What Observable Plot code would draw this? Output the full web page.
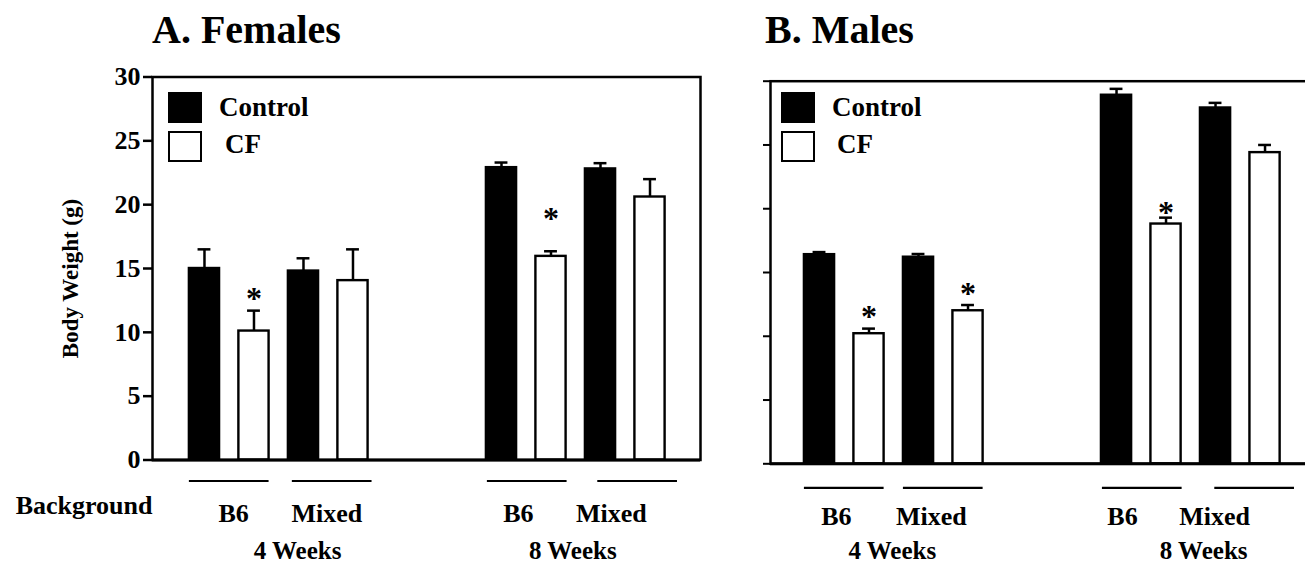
<!DOCTYPE html>
<html>
<head>
<meta charset="utf-8">
<script src="https://cdn.jsdelivr.net/npm/d3@7"></script>
<script src="https://cdn.jsdelivr.net/npm/@observablehq/plot@0.6"></script>
<style>
  html, body { margin: 0; padding: 0; background: #fff; overflow: hidden; width: 1305px; height: 563px; }
  #wrap { position: relative; width: 1305px; height: 563px; overflow: hidden;
          font-family: "Liberation Serif", "Times New Roman", serif; font-weight: bold; color: #000; }
  .title { position: absolute; top: 10px; font-size: 40px; line-height: 40px; white-space: nowrap; }
  .panel { position: absolute; top: 0; height: 563px; }
  .panel svg { max-width: none !important; }
  .sw { position: absolute; width: 34px; height: 31px; box-sizing: border-box; }
  .sw.ctrl { background: #000; }
  .sw.cf { background: #fff; border: 2.5px solid #000; }
  .lt { position: absolute; font-size: 27px; line-height: 27px; white-space: nowrap; }
</style>
</head>
<body>
<div id="wrap">
  <div id="pA" class="panel" style="left:0px;width:720px"></div>
  <div id="pB" class="panel" style="left:700px;width:638px"></div>
  <div class="title" style="left:152px">A. Females</div>
  <div class="title" style="left:765px">B. Males</div>
  <div class="sw ctrl" style="left:168px;top:92px"></div>
  <div class="sw cf" style="left:168px;top:131px"></div>
  <div class="lt" style="left:219px;top:94px">Control</div>
  <div class="lt" style="left:225px;top:131px">CF</div>
  <div class="sw ctrl" style="left:781px;top:92px"></div>
  <div class="sw cf" style="left:781px;top:131px"></div>
  <div class="lt" style="left:832px;top:94px">Control</div>
  <div class="lt" style="left:837px;top:131px">CF</div>
</div>
<script>
// ---- data (order: age -> background -> genotype) ----
const ages = ["4 Weeks", "8 Weeks"];
const backgrounds = ["B6", "Mixed"];
const genotypes = ["Control", "CF"];
const yTicks = [0, 5, 10, 15, 20, 25, 30];

const femaleMean = [15.0, 10.1, 14.8, 14.05, 22.9, 15.95, 22.8, 20.6];
const femaleSEM  = [1.5, 1.6, 1.0, 2.45, 0.4, 0.4, 0.45, 1.4];
const femaleStar = [null, 13.0, null, null, null, 19.3, null, null];

const maleMean = [16.4, 10.2, 16.2, 12.0, 28.9, 18.8, 27.9, 24.4];
const maleSEM  = [0.2, 0.4, 0.25, 0.45, 0.5, 0.5, 0.4, 0.6];
const maleStar = [null, 11.9, null, 13.75, null, 20.1, null, null];

// ---- build tables ----
function buildRows(mean, sem, star) {
  const rows = [];
  ages.forEach((age, a) => backgrounds.forEach((bg, b) => genotypes.forEach((g, k) => {
    const i = a * 4 + b * 2 + k;
    rows.push({age, bg, genotype: g, slot: a * 6 + b * 2 + k, mean: mean[i], sem: sem[i], star: star[i]});
  })));
  return rows;
}
function buildPairs() {
  const pairs = [];
  ages.forEach((age, a) => backgrounds.forEach((bg, b) => {
    const s = a * 6 + b * 2;
    pairs.push({age, bg, first: s, last: s + 1, center: s + 0.5});
  }));
  return pairs;
}
function buildAges() {
  return ages.map((age, a) => ({age, center: a * 6 + 1.5}));
}

const HALF = 0.305, CAP = 0.13;
const FONT = "'Liberation Serif', 'Times New Roman', serif";

function panel(cfg) {
  const rows = buildRows(cfg.mean, cfg.sem, cfg.star);
  const pairs = buildPairs();
  const ageRows = buildAges();
  const marks = [
    Plot.frame({strokeWidth: 2.5}),
    Plot.rect(rows, {x1: d => d.slot - HALF, x2: d => d.slot + HALF, y1: 0, y2: "mean",
                     fill: "genotype", stroke: "black", strokeWidth: 2.4}),
    Plot.ruleX(rows, {x: "slot", y1: "mean", y2: d => d.mean + d.sem, strokeWidth: 2.5}),
    Plot.ruleY(rows, {x1: d => d.slot - CAP, x2: d => d.slot + CAP, y: d => d.mean + d.sem, strokeWidth: 2.5}),
    Plot.text(rows.filter(d => d.star != null), {x: "slot", y: "star", text: () => "*", fontSize: 32, dy: 5}),
    Plot.ruleY([0], {strokeWidth: 3}),
    Plot.ruleY(pairs, {x1: (d, i) => d.first - HALF + cfg.lineShift[i], x2: (d, i) => d.last + HALF + cfg.lineShift[i],
                       y: 0, dy: cfg.lineDy, strokeWidth: 2.2}),
    Plot.text(pairs, {x: (d, i) => d.center + cfg.labelShift[i], y: 0, dy: cfg.labelDy, text: "bg", fontSize: 26}),
    Plot.text(ageRows, {x: (d, i) => d.center + cfg.ageShift[i], y: 0, dy: cfg.ageDy, text: "age", fontSize: 25})
  ];
  if (cfg.labels) {
    marks.push(
      Plot.axisY({ticks: yTicks, tickSize: 9, tickPadding: 3, fontSize: 26, strokeWidth: 2.5, label: null}),
      Plot.text(["Background"], {frameAnchor: "bottom-left", textAnchor: "end", text: d => d, dy: cfg.labelDy, fontSize: 26}),
      Plot.text(["Body Weight (g)"], {frameAnchor: "left", textAnchor: "middle", rotate: -90, text: d => d,
                                      dx: -82, dy: 10, fontSize: 23})
    );
  } else {
    marks.push(Plot.axisY({ticks: yTicks, tickSize: 7, tickFormat: () => "", strokeWidth: 2, label: null}));
  }
  return Plot.plot({
    width: cfg.width,
    height: 563,
    marginLeft: cfg.ml,
    marginRight: 20,
    marginTop: cfg.top,
    marginBottom: 563 - cfg.base,
    x: {type: "linear", domain: cfg.xDomain, axis: null},
    y: {domain: [0, 30], axis: null},
    color: {domain: genotypes, range: ["black", "white"]},
    style: {fontFamily: FONT, fontWeight: "bold", background: "transparent", color: "black",
            overflow: "visible", maxWidth: "none"},
    marks
  });
}

document.getElementById("pA").append(panel({
  mean: femaleMean, sem: femaleSEM, star: femaleStar, labels: true,
  width: 720, ml: 152, top: 76.5, base: 459.5, xDomain: [-1.05, 10.02],
  lineDy: 21, labelDy: 54, ageDy: 91,
  lineShift: [0, 0.08, 0.02, 0.25],
  labelShift: [0.09, -0.03, -0.16, -0.28],
  ageShift: [0.38, -0.06]
}));
document.getElementById("pB").append(panel({
  mean: maleMean, sem: maleSEM, star: maleStar, labels: false,
  width: 638, ml: 70, top: 80.7, base: 463.3, xDomain: [-0.99, 10.08],
  lineDy: 24, labelDy: 53, ageDy: 87,
  lineShift: [0, 0, 0.02, 0.29],
  labelShift: [-0.16, -0.24, -0.38, -0.52],
  ageShift: [-0.03, 0.26]
}));
</script>
</body>
</html>
